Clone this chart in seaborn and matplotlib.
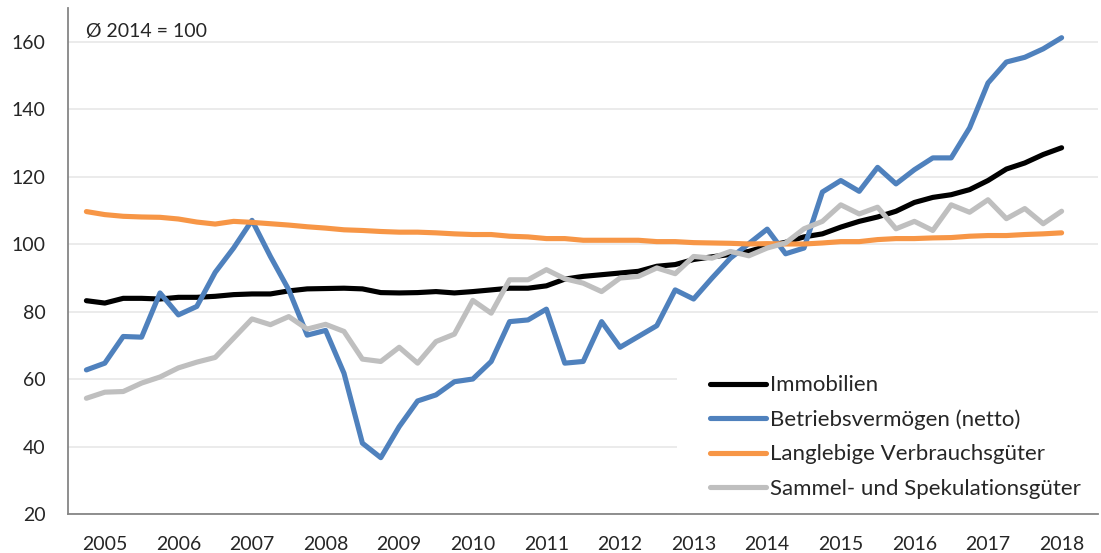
import numpy as np
import pandas as pd
import matplotlib
matplotlib.use("Agg")
import matplotlib.pyplot as plt
import seaborn as sns

# quarterly index values, 2005 Q1 .. 2018 Q2 (avg 2014 = 100)
years = [str(y) for y in range(2005, 2019)]
immobilien = [83.3, 82.6, 84.0, 84.0, 83.8, 84.3, 84.3, 84.6, 85.1, 85.3, 85.3, 86.2, 86.8, 86.9,
              87.0, 86.8, 85.7, 85.6, 85.7, 86.0, 85.6, 86.0, 86.5, 87.0, 87.0, 87.7, 89.7, 90.5,
              91.0, 91.5, 92.0, 93.5, 94.0, 95.5, 96.3, 97.0, 97.9, 99.5, 100.6, 102.2,
              103.1, 105.1, 106.8, 108.1, 109.8, 112.4, 113.9, 114.7, 116.2, 118.9, 122.3, 124.1, 126.6, 128.6]
betrieb = [62.8, 64.8, 72.7, 72.5, 85.6, 79.1, 81.6, 91.7, 98.9, 107.1, 96.4, 86.5, 73.1, 74.5,
           61.8, 41.1, 36.8, 46.0, 53.6, 55.4, 59.3, 60.1, 65.3, 77.1, 77.6, 80.8, 64.8, 65.3,
           77.1, 69.5, 72.7, 75.9, 86.5, 83.8, 90.0, 95.9, 100.2, 104.5, 97.2, 98.9,
           115.5, 118.9, 115.7, 122.8, 117.9, 122.1, 125.6, 125.6, 134.5, 147.8, 154.0, 155.4, 157.9, 161.2]
langlebig = [109.7, 108.8, 108.3, 108.1, 108.0, 107.5, 106.6, 106.0, 106.8, 106.5, 106.1, 105.7, 105.2, 104.8,
             104.3, 104.1, 103.8, 103.6, 103.6, 103.4, 103.1, 102.9, 102.9, 102.4, 102.2, 101.7, 101.7, 101.2,
             101.2, 101.2, 101.2, 100.8, 100.8, 100.5, 100.4, 100.3, 100.1, 100.2, 100.1, 100.1,
             100.4, 100.8, 100.8, 101.4, 101.7, 101.7, 101.9, 102.0, 102.4, 102.6, 102.6, 102.9, 103.1, 103.4]
sammel = [54.4, 56.2, 56.4, 58.9, 60.7, 63.4, 65.1, 66.5, 72.2, 77.9, 76.2, 78.6, 74.9, 76.3,
          74.2, 66.0, 65.3, 69.5, 64.8, 71.2, 73.4, 83.4, 79.6, 89.5, 89.5, 92.5, 89.8, 88.5,
          86.0, 90.0, 90.5, 93.0, 91.3, 96.4, 95.9, 97.9, 96.6, 98.9, 100.4, 104.6,
          106.8, 111.7, 109.0, 111.0, 104.6, 106.8, 104.1, 111.7, 109.5, 113.2, 107.6, 110.6, 106.1, 109.8]

series_names = ["Immobilien", "Betriebsvermögen (netto)",
                "Langlebige Verbrauchsgüter", "Sammel- und Spekulationsgüter"]
colors = ["#000000", "#4F81BD", "#F79646", "#BFBFBF"]

quarter = np.arange(1, len(immobilien) + 1)
df = pd.DataFrame({"quarter": np.tile(quarter, 4),
                   "value": immobilien + betrieb + langlebig + sammel,
                   "series": np.repeat(series_names, len(quarter))})

sns.set_style("white")
plt.rcParams["font.family"] = ["Lato", "DejaVu Sans"]

fig = plt.figure(figsize=(11.01, 5.53), dpi=100)
ax = fig.add_axes([68 / 1101, 1 - 514.4 / 553, (1098.4 - 68) / 1101, (514.4 - 8) / 553])

sns.lineplot(data=df, x="quarter", y="value", hue="series", hue_order=series_names,
             palette=colors, linewidth=3.7, ax=ax, legend=False,
             solid_capstyle="round", solid_joinstyle="round", zorder=3)

ax.set_xlim(0, 56)
ax.set_ylim(20, 170)
ax.set_yticks(range(20, 161, 20))
ax.yaxis.grid(True, color="#EBEBEB", linewidth=1.4)
ax.set_axisbelow(True)
ax.set_xlabel("")
ax.set_ylabel("")

ax.set_xticks(range(0, 56, 4))
ax.set_xticks([q for q in range(1, 56) if q % 4 != 0], minor=True)
ax.set_xticklabels([])
ax.tick_params(axis="x", which="major", direction="inout", length=11.5, width=1.2, color="#868686")
ax.tick_params(axis="x", which="minor", direction="inout", length=4.5, width=1.2, color="#868686")
ax.tick_params(axis="y", direction="out", length=5, width=1.2, color="#868686",
               labelsize=14, pad=11)

for side in ["top", "right"]:
    ax.spines[side].set_visible(False)
for side in ["left", "bottom"]:
    ax.spines[side].set_color("#868686")
    ax.spines[side].set_linewidth(1.3)

for k, y in enumerate(years):
    ax.text(4 * k + 2, -0.06, y, transform=ax.get_xaxis_transform(),
            ha="center", va="center", fontsize=14)

fig.text(86 / 1101, 1 - 31 / 553, "Ø 2014 = 100", fontsize=14, va="center", ha="left")

handles = [plt.Line2D([], [], color=c, linewidth=3.7, solid_capstyle="round") for c in colors]
leg = ax.legend(handles, series_names, loc="upper left",
                bbox_to_anchor=(677 / 1101, 1 - 342 / 553), bbox_transform=fig.transFigure,
                fontsize=16, frameon=True, facecolor="white", edgecolor="none", framealpha=1,
                handlelength=2.5, handletextpad=0.2, labelspacing=0.64, borderpad=1.5,
                borderaxespad=0)
# keep the white box above the grid but under the axis line
leg.set_zorder(2)

fig.savefig("out.png", dpi=100)
